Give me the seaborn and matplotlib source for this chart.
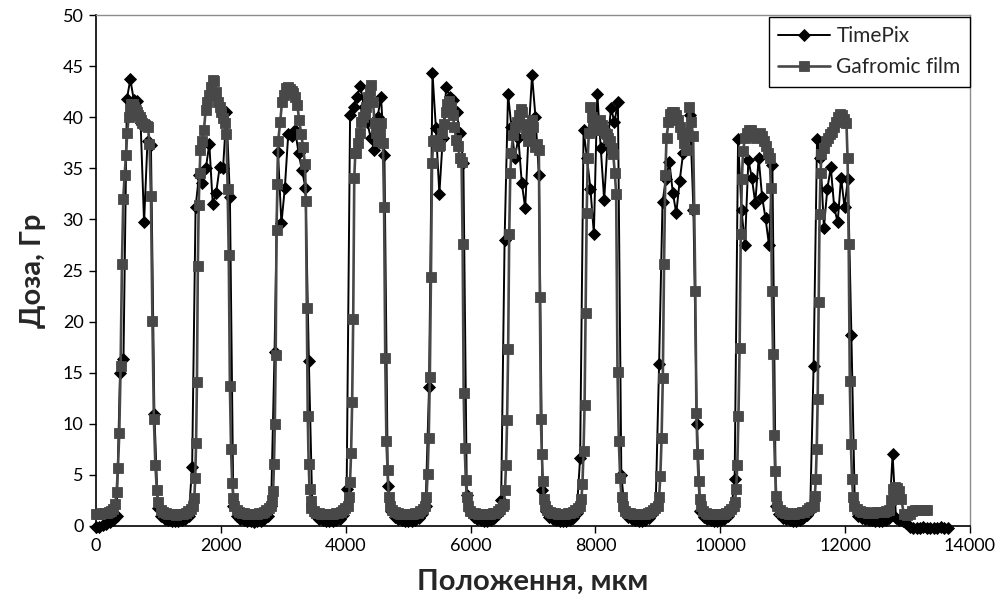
import numpy as np
import pandas as pd
import matplotlib
matplotlib.use("Agg")
import matplotlib.pyplot as plt
import seaborn as sns

# ---------------- data ----------------
TIMEPIX_STEP_UM = 55  # TimePix pixel pitch, first pixel at 0 um

timepix_dose = [
    -0.1, -0.1, 0.1, 0.2, 0.4, 0.6, 1.0,
    15.0, 16.3, 41.8, 43.7, 41.7, 41.6, 39.4, 29.7, 37.7, 37.3, 11.0, 1.8,
    1.0, 0.7, 0.6, 0.5, 0.5, 0.5, 0.6, 0.7, 1.0,
    5.8, 31.2, 34.3, 33.6, 35.0, 37.4, 31.5, 32.6, 35.1, 35.0, 40.5, 32.2, 2.0,
    1.0, 0.7, 0.6, 0.5, 0.5, 0.4, 0.5, 0.5, 0.7, 1.0,
    2.0, 17.0, 36.6, 29.6, 33.1, 38.4, 38.2, 38.7, 36.5, 34.8, 33.1, 16.1, 1.8,
    1.0, 0.7, 0.6, 0.5, 0.5, 0.5, 0.6, 0.7, 1.1,
    3.6, 40.2, 41.0, 42.0, 43.1, 41.0, 39.5, 38.0, 36.8, 40.0, 42.0, 36.3, 3.9, 1.5,
    0.9, 0.7, 0.6, 0.5, 0.5, 0.5, 0.6, 0.8, 1.2,
    2.0, 13.6, 44.3, 38.9, 32.5, 38.0, 43.0, 42.0, 41.7, 40.5, 38.5, 35.5, 3.0, 1.5,
    0.9, 0.7, 0.6, 0.5, 0.5, 0.6, 0.8, 1.2,
    2.5, 28.0, 42.3, 39.0, 36.0, 38.0, 33.6, 31.1, 38.5, 44.1, 40.0, 34.3, 3.5, 1.5,
    0.9, 0.7, 0.6, 0.5, 0.5, 0.5, 0.6, 0.8, 1.3,
    6.7, 38.7, 36.0, 33.0, 28.6, 42.3, 37.0, 31.9, 37.5, 40.9, 39.5, 41.5, 5.0, 1.5,
    0.9, 0.7, 0.6, 0.5, 0.5, 0.6, 0.8, 1.2,
    2.0, 15.9, 31.7, 34.0, 35.6, 32.6, 30.6, 33.8, 36.5, 38.5, 40.2, 30.9, 10.0, 1.5,
    0.9, 0.7, 0.6, 0.5, 0.5, 0.6, 0.7, 1.0,
    1.5, 4.6, 37.9, 30.9, 27.5, 35.8, 34.1, 31.6, 36.0, 32.2, 30.1, 27.5, 35.3, 2.0, 1.2,
    0.8, 0.7, 0.6, 0.5, 0.5, 0.6, 0.8, 1.1,
    1.5, 15.7, 37.9, 36.0, 29.2, 33.0, 35.1, 31.2, 29.7, 34.1, 31.2, 34.0, 18.7, 2.0, 1.0,
    0.8, 0.7, 0.6, 0.6, 0.5, 0.5, 0.5, 0.6, 0.8,
    7.0,
    0.8, 0.6, 0.5, 0.3, -0.1,
    -0.2, -0.2, -0.2, -0.1, -0.2, -0.2, -0.2, -0.2, -0.1, -0.2, -0.2,
]

# Gafchromic film: ten peaks, each = rising edge, plateau, falling edge (um)
film_rise_start = [309, 1561, 2810, 4035, 5276, 6517, 7758, 9000, 10217, 11499]
film_top_start = [501, 1673, 2919, 4171, 5401, 6653, 7894, 9139, 10365, 11621]
film_top_end = [833, 2090, 3347, 4596, 5856, 7094, 8311, 9565, 10793, 12021]
film_fall_end = [998, 2218, 3451, 4708, 5957, 7190, 8439, 9688, 10913, 12146]

film_rise = [
    [2.2, 3.3, 5.7, 9.1, 15.7, 25.6, 32.0, 34.3, 36.3],
    [2.0, 2.7, 4.7, 8.1, 14.1, 25.4, 31.4, 34.5],
    [2.0, 2.5, 3.4, 6.1, 10.0, 16.7, 29.0, 33.5],
    [2.0, 2.8, 4.3, 7.1, 12.1, 20.3, 34.1, 36.5],
    [2.0, 2.8, 5.1, 8.6, 14.6, 24.4, 35.5],
    [2.0, 2.2, 3.5, 6.0, 10.4, 17.3, 28.6, 34.5],
    [2.0, 2.6, 4.1, 7.3, 11.8, 20.8, 30.6, 36.0],
    [2.0, 2.8, 4.9, 8.6, 14.5, 25.6, 34.3],
    [2.0, 2.3, 3.6, 6.0, 10.8, 17.4, 28.6, 34.0],
    [2.0, 2.9, 4.6, 7.5, 12.4, 21.9, 30.5, 34.5],
]
film_top = [
    [38.5, 40.0, 40.8, 41.3, 41.3, 41.0, 40.7, 40.5, 40.2, 40.0, 39.7, 39.4, 39.3, 39.2, 39.1, 39.0],
    [36.8, 37.7, 38.7, 40.7, 41.5, 42.2, 43.0, 43.6, 43.5, 42.5, 41.5, 41.0, 40.5, 39.9, 39.4, 38.4],
    [37.7, 39.5, 41.5, 42.2, 42.9, 43.0, 42.8, 42.6, 42.4, 42.0, 41.2, 39.7, 38.4, 37.1, 35.4],
    [36.5, 37.5, 38.5, 39.5, 40.0, 40.3, 41.0, 42.0, 42.6, 43.2, 41.5, 39.4, 38.5, 37.7, 38.5, 39.4, 37.5],
    [37.7, 37.8, 37.5, 37.2, 37.3, 38.5, 39.3, 40.5, 41.3, 41.6, 41.0, 40.2, 39.0, 37.8, 37.2, 36.0, 35.6],
    [36.5, 38.3, 39.0, 39.5, 40.2, 40.8, 40.5, 39.3, 38.5, 37.7, 38.5, 39.7, 39.0, 37.1, 37.4, 36.8],
    [38.5, 41.0, 40.0, 38.7, 39.0, 39.3, 39.5, 39.7, 39.2, 38.7, 38.5, 38.4, 38.0, 37.7, 37.0, 36.4, 34.5],
    [38.0, 39.5, 40.3, 40.5, 40.5, 40.2, 39.7, 39.0, 38.4, 37.5, 36.8, 38.5, 41.0, 39.5, 38.2],
    [36.7, 38.0, 38.5, 38.7, 38.7, 38.4, 38.2, 38.0, 38.3, 38.5, 38.2, 37.7, 37.2, 36.5, 36.0],
    [36.4, 37.0, 37.7, 38.0, 38.4, 38.6, 39.0, 39.5, 40.0, 40.3, 40.2, 39.8, 39.4],
]
film_fall = [
    [37.4, 32.3, 20.1, 10.5, 6.0, 3.5, 2.3],
    [33.0, 26.5, 13.7, 7.5, 4.2, 2.7, 2.0],
    [31.8, 21.3, 10.8, 6.1, 3.6, 2.4, 1.8],
    [31.2, 16.4, 8.3, 5.5, 2.8, 2.0],
    [27.6, 13.0, 7.6, 4.5, 2.8, 2.0],
    [22.4, 10.5, 7.0, 4.4, 2.6, 2.0],
    [32.5, 15.1, 8.3, 4.7, 2.8, 2.0],
    [31.0, 23.0, 11.1, 7.0, 4.4, 2.6, 2.0],
    [33.1, 23.0, 16.8, 8.9, 5.4, 2.9, 2.0],
    [36.0, 27.6, 14.2, 8.0, 4.6, 2.8, 2.0],
]
film_valley = [
    [1.6, 1.4, 1.3, 1.2, 1.2, 1.2, 1.1, 1.2, 1.2, 1.2, 1.3, 1.5, 1.7],
    [1.6, 1.4, 1.3, 1.3, 1.2, 1.2, 1.2, 1.2, 1.2, 1.3, 1.3, 1.4, 1.6, 1.8],
    [1.5, 1.3, 1.3, 1.2, 1.2, 1.2, 1.2, 1.2, 1.2, 1.3, 1.3, 1.4, 1.6, 1.8],
    [1.6, 1.4, 1.3, 1.2, 1.2, 1.2, 1.2, 1.2, 1.2, 1.3, 1.3, 1.5, 1.7],
    [1.5, 1.3, 1.3, 1.2, 1.2, 1.2, 1.2, 1.2, 1.2, 1.3, 1.3, 1.5, 1.7],
    [1.6, 1.4, 1.3, 1.3, 1.2, 1.2, 1.2, 1.2, 1.3, 1.3, 1.4, 1.6, 1.8],
    [1.5, 1.3, 1.3, 1.2, 1.2, 1.2, 1.2, 1.2, 1.2, 1.3, 1.4, 1.6, 1.8],
    [1.5, 1.3, 1.2, 1.2, 1.2, 1.2, 1.2, 1.2, 1.2, 1.3, 1.5, 1.7],
    [1.6, 1.4, 1.3, 1.3, 1.2, 1.2, 1.2, 1.3, 1.3, 1.4, 1.4, 1.6, 1.8, 1.9],
]
film_lead = [1.2, 1.2, 1.2, 1.3, 1.3, 1.3, 1.4, 1.5, 1.7]
film_tail_valley = [1.7, 1.5, 1.4, 1.4, 1.3, 1.3, 1.3, 1.4, 1.4, 1.4, 1.4, 1.5, 1.6]
film_tail_valley_end = 12700
film_bump = [2.5, 3.6, 3.8, 3.7, 3.4, 2.6]
film_bump_span = (12740, 12900)
film_tail_post = [1.2, 1.1, 1.2, 1.5, 1.6, 1.6, 1.6, 1.6, 1.6]
film_tail_post_span = (12940, 13307)

x_ticks = [0, 2000, 4000, 6000, 8000, 10000, 12000, 14000]
y_ticks = [0, 5, 10, 15, 20, 25, 30, 35, 40, 45, 50]
x_label = "Положення, мкм"
y_label = "Доза, Гр"
series_names = ["TimePix", "Gafromic film"]

# ---------------- assemble tables ----------------
tp_df = pd.DataFrame({
    "x": np.arange(len(timepix_dose)) * TIMEPIX_STEP_UM,
    "y": timepix_dose,
})

fx, fy = [], []


def add(x0, x1, vals, keep_start=True, keep_end=True):
    n = len(vals) + (0 if keep_start else 1) + (0 if keep_end else 1)
    xs = np.linspace(x0, x1, n)
    if not keep_start:
        xs = xs[1:]
    if not keep_end:
        xs = xs[:-1]
    fx.extend(xs)
    fy.extend(vals)


add(0, film_rise_start[0], film_lead, True, False)
for k in range(len(film_rise)):
    add(film_rise_start[k], film_top_start[k], film_rise[k], True, False)
    add(film_top_start[k], film_top_end[k], film_top[k], True, True)
    add(film_top_end[k], film_fall_end[k], film_fall[k], False, True)
    if k < len(film_valley):
        add(film_fall_end[k], film_rise_start[k + 1], film_valley[k], False, False)
add(film_fall_end[-1], film_tail_valley_end, film_tail_valley, False, True)
add(film_bump_span[0], film_bump_span[1], film_bump)
add(film_tail_post_span[0], film_tail_post_span[1], film_tail_post)
film_df = pd.DataFrame({"x": fx, "y": fy})

# ---------------- draw ----------------
sns.set_style("ticks")
plt.rcParams["font.family"] = ["Lato", "DejaVu Sans"]

fig = plt.figure(figsize=(10, 6.03), dpi=100)
ax = fig.add_axes([0.096, 0.1277, 0.874, 0.8474])

film_color = "#484848"
sns.lineplot(data=tp_df, x="x", y="y", ax=ax, color="black", linewidth=1.4,
             marker="D", markersize=6.0, markeredgecolor="black",
             markeredgewidth=0.6, label=series_names[0], sort=False,
             estimator=None, clip_on=False, zorder=3)
sns.lineplot(data=film_df, x="x", y="y", ax=ax, color=film_color, linewidth=1.9,
             marker="s", markersize=6.6, markeredgecolor=film_color,
             markeredgewidth=0.6, label=series_names[1], sort=False,
             estimator=None, clip_on=False, zorder=4)

ax.set_xlim(0, 14000)
ax.set_ylim(0, 50)
ax.set_xticks(x_ticks)
ax.set_yticks(y_ticks)
ax.set_xticklabels([str(t) for t in x_ticks])
ax.set_yticklabels([str(t) for t in y_ticks])
ax.tick_params(axis="both", direction="out", length=5, width=1, color="black",
               labelsize=13, labelcolor="black", pad=4)

for side in ["left", "bottom"]:
    ax.spines[side].set_color("black")
    ax.spines[side].set_linewidth(1.2)
for side in ["top", "right"]:
    ax.spines[side].set_visible(True)
    ax.spines[side].set_color("#8c8c8c")
    ax.spines[side].set_linewidth(1.0)

ax.set_xlabel(x_label, fontsize=21, fontweight="bold", labelpad=10)
ax.set_ylabel(y_label, fontsize=21, fontweight="bold", labelpad=12)

leg = ax.legend(loc="upper right", bbox_to_anchor=(1.0, 0.997), borderaxespad=0,
                frameon=True, fancybox=False, framealpha=1, edgecolor="black",
                fontsize=15, handlelength=2.5, handletextpad=0.3,
                labelspacing=0.55, borderpad=0.45)
leg.get_frame().set_linewidth(1.0)

fig.savefig("out.png", dpi=100)
